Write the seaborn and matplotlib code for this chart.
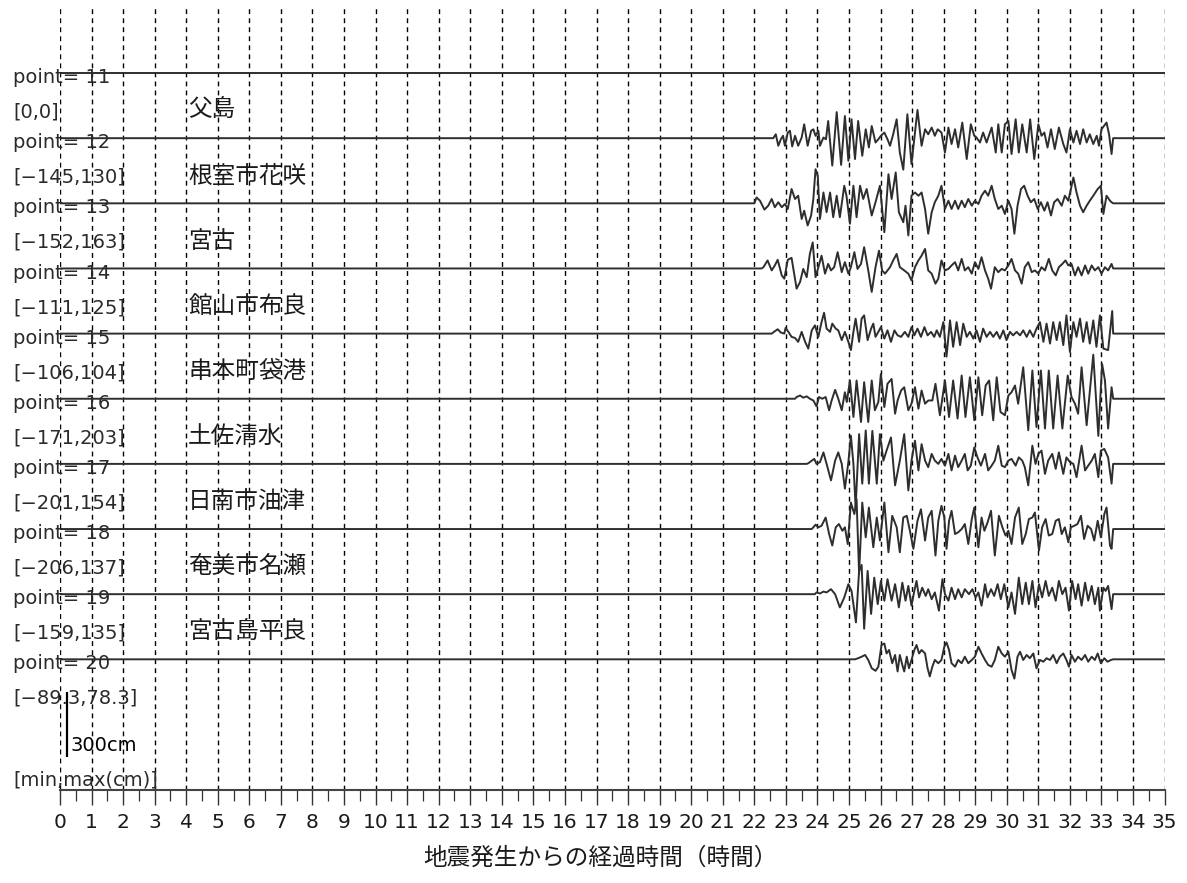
import numpy as np
import pandas as pd
import matplotlib
matplotlib.use("Agg")
import matplotlib.pyplot as plt
import seaborn as sns

# ---------------- data ----------------
points = [11, 12, 13, 14, 15, 16, 17, 18, 19, 20]
ranges = ["[0,0]", "[\u2212145,130]", "[\u2212152,163]", "[\u2212111,125]", "[\u2212106,104]",
          "[\u2212171,203]", "[\u2212201,154]", "[\u2212206,137]", "[\u2212159,135]", "[\u221289.3,78.3]"]
stations = ["父島", "根室市花咲", "宮古", "館山市布良", "串本町袋港", "土佐清水",
            "日南市油津", "奄美市名瀬", "宮古島平良", ""]
hour_ticks = list(range(0, 36))
x_label = "地震発生からの経過時間（時間）"
scale_cm = 300
scale_text = "300cm"
minmax_text = "[min,max(cm)]"

t11 = []
a11 = []

t12 = [22.60, 22.68, 22.76, 22.84, 22.91, 22.97, 23.06, 23.13, 23.20, 23.29,
       23.39, 23.50, 23.58, 23.69, 23.80, 23.87, 23.94, 24.03, 24.08, 24.19,
       24.27, 24.34, 24.47, 24.61, 24.75, 24.87, 24.98, 25.08, 25.19, 25.29,
       25.42, 25.53, 25.63, 25.72, 25.84, 25.93, 26.01, 26.12, 26.22, 26.30,
       26.40, 26.51, 26.61, 26.72, 26.85, 26.98, 27.17, 27.30, 27.41, 27.51,
       27.62, 27.72, 27.81, 27.93, 28.04, 28.15, 28.25, 28.36, 28.46, 28.59,
       28.73, 28.86, 28.97, 29.04, 29.15, 29.25, 29.36, 29.52, 29.65, 29.73,
       29.84, 29.94, 30.05, 30.15, 30.28, 30.38, 30.49, 30.63, 30.74, 30.87,
       31.00, 31.10, 31.19, 31.29, 31.40, 31.52, 31.65, 31.79, 31.89, 32.00,
       32.11, 32.21, 32.32, 32.42, 32.53, 32.63, 32.74, 32.85, 32.92, 33.00,
       33.16, 33.24, 33.32, 33.37]
a12 = [0, 18, -35, -5, 11, -35, 26, 34, -38, 11,
       -35, 3, 64, -35, 34, 41, 11, 34, -35, 3,
       -5, 79, -126, 120, -123, 102, -104, 87, -96, 79,
       -81, 41, -43, 56, -20, -5, 11, 26, -5, -35,
       18, 87, -66, -145, 110, -119, 130, -35, 41, 18,
       49, 11, 41, 26, -66, 49, -27, 41, -43, 72,
       -96, 64, 11, 3, -20, 26, -20, 49, -66, 64,
       -66, 64, 79, -73, 87, -66, 64, -66, 87, -96,
       64, 11, 26, -43, 41, -50, 49, -27, -66, 41,
       -20, 34, -27, 41, -20, 18, -27, 11, -35, 41,
       72, 18, -73, 0]

t13 = [22.00,
       22.07, 22.18, 22.32, 22.44, 22.55, 22.65, 22.76, 22.87, 22.97, 23.06,
       23.18, 23.29, 23.39, 23.50, 23.58, 23.69, 23.80, 23.87, 23.94, 24.01,
       24.08, 24.19, 24.29, 24.40, 24.50, 24.61, 24.71, 24.85, 24.92, 25.03,
       25.14, 25.24, 25.35, 25.45, 25.56, 25.72, 25.84, 25.98, 26.12, 26.25,
       26.35, 26.48, 26.58, 26.72, 26.79, 26.88, 26.98, 27.09, 27.20, 27.30,
       27.41, 27.51, 27.62, 27.72, 27.83, 27.93, 28.04, 28.15, 28.25, 28.36,
       28.46, 28.57, 28.67, 28.78, 28.89, 28.99, 29.10, 29.20, 29.31, 29.41,
       29.52, 29.62, 29.73, 29.84, 29.94, 30.05, 30.15, 30.24, 30.34, 30.45,
       30.55, 30.66, 30.76, 30.87, 30.98, 31.08, 31.19, 31.29, 31.40, 31.50,
       31.61, 31.74, 31.84, 31.95, 32.11, 32.21, 32.32, 32.42, 32.53, 32.63,
       32.74, 32.88, 32.98, 33.06, 33.16, 33.27, 33.32, 33.37]
a13 = [0,
       27, 12, -29, -11, 20, -18, 5, -18, -3, -26,
       66, 20, 35, -72, -34, -102, -56, 20, 157, 126,
       -72, 50, -41, 50, -64, 35, -64, 81, 35, -94,
       81, -64, 81, 20, 66, -56, 5, 81, -133, 134,
       20, 142, -41, -87, -11, -148, 35, 50, 35, 50,
       -26, -140, -41, 5, 35, 81, -26, 12, -26, 12,
       -26, 12, -18, 20, -11, 12, -3, 35, 58, 35,
       81, 20, -26, -11, -49, 12, -26, -140, -11, 66,
       81, 35, 5, 20, -26, 5, -34, 5, -56, 5,
       20, -11, 35, 12, 119, 50, -11, -41, -11, 12,
       35, 66, 81, -49, 35, 12, 5, 0]

t14 = [22.23,
       22.29, 22.42, 22.55, 22.65, 22.74, 22.87, 22.95, 23.06, 23.18, 23.34,
       23.45, 23.55, 23.66, 23.76, 23.85, 23.94, 24.03, 24.13, 24.24, 24.34,
       24.43, 24.53, 24.64, 24.77, 24.87, 24.98, 25.06, 25.17, 25.27, 25.38,
       25.48, 25.61, 25.72, 25.84, 25.95, 26.05, 26.14, 26.30, 26.40, 26.51,
       26.61, 26.75, 26.88, 26.98, 27.09, 27.20, 27.30, 27.41, 27.51, 27.62,
       27.74, 27.83, 27.93, 28.04, 28.15, 28.25, 28.36, 28.46, 28.57, 28.67,
       28.78, 28.89, 28.99, 29.10, 29.20, 29.31, 29.41, 29.50, 29.62, 29.73,
       29.84, 29.94, 30.05, 30.15, 30.26, 30.36, 30.47, 30.57, 30.68, 30.79,
       30.89, 31.00, 31.10, 31.21, 31.33, 31.44, 31.55, 31.65, 31.76, 31.86,
       31.95, 32.05, 32.16, 32.26, 32.37, 32.48, 32.58, 32.69, 32.79, 32.90,
       33.00, 33.11, 33.21, 33.32, 33.37]
a14 = [0,
       6, 37, -9, 14, 40, -32, -47, 40, 49, -93,
       -62, -2, -40, 67, 120, -40, 6, 59, -24, 21,
       -9, 6, 75, -17, 29, -24, 6, 75, -2, 21,
       98, -9, -108, 6, 82, -9, -24, 6, 37, 67,
       6, -9, -24, -55, 6, 37, 59, 90, -9, -24,
       -70, -47, 37, -9, -2, 14, 29, -9, 44, -9,
       6, -24, 29, -2, 52, -9, -47, -93, 6, -17,
       -2, -9, 14, 44, -9, -24, -70, 6, 29, -17,
       -9, -24, 6, -9, 44, -9, -32, 6, 21, 37,
       14, 21, -32, 6, -32, 14, -24, 14, -9, 6,
       -24, 6, -9, 21, 0]

t15 = [22.50,
       22.55, 22.65, 22.74, 22.84, 22.95, 22.99, 23.08, 23.18, 23.29, 23.39,
       23.50, 23.61, 23.71, 23.82, 23.92, 24.03, 24.13, 24.21, 24.29, 24.40,
       24.47, 24.58, 24.66, 24.77, 24.87, 24.98, 25.06, 25.14, 25.21, 25.32,
       25.40, 25.48, 25.59, 25.70, 25.77, 25.84, 25.93, 26.01, 26.12, 26.22,
       26.33, 26.44, 26.54, 26.65, 26.77, 26.88, 26.98, 27.07, 27.17, 27.28,
       27.39, 27.49, 27.60, 27.70, 27.78, 27.88, 27.99, 28.09, 28.20, 28.30,
       28.41, 28.52, 28.62, 28.73, 28.83, 28.94, 29.04, 29.15, 29.25, 29.36,
       29.47, 29.57, 29.68, 29.78, 29.89, 29.99, 30.10, 30.20, 30.31, 30.42,
       30.52, 30.63, 30.73, 30.84, 30.94, 31.05, 31.16, 31.26, 31.37, 31.47,
       31.58, 31.68, 31.79, 31.89, 32.00, 32.11, 32.21, 32.32, 32.42, 32.53,
       32.63, 32.74, 32.84, 32.95, 33.06, 33.21, 33.34, 33.37]
a15 = [0,
       0, 11, 20, 5, 0, 26, 8, -15, -20, -38,
       8, -38, -69, 15, 38, -15, 53, 96, 23, 8,
       46, 23, 15, -30, 8, -38, -76, 8, 69, -38,
       69, 84, -30, 23, 46, -15, 8, 30, -23, 15,
       -38, 15, -8, -15, 8, -15, 30, -8, 23, -15,
       30, -8, 8, -15, 15, -15, 53, -106, 61, -61,
       53, -53, 46, -15, 8, -23, 15, -38, 23, -15,
       8, -15, 8, -23, 15, -30, 8, -8, 8, -8,
       15, -15, 15, -15, 23, 53, -38, 46, -46, 53,
       -30, 53, -53, 84, -84, 53, -15, 69, -38, 53,
       -46, 61, -61, 84, -69, -76, 104, 0]

t16 = [23.29,
       23.34, 23.45, 23.55, 23.66, 23.76, 23.87, 23.97, 24.05, 24.15, 24.26,
       24.37, 24.45, 24.56, 24.66, 24.77, 24.87, 24.93, 25.03, 25.14, 25.24,
       25.38, 25.48, 25.61, 25.72, 25.82, 25.93, 26.01, 26.12, 26.22, 26.35,
       26.46, 26.54, 26.65, 26.75, 26.88, 26.98, 27.09, 27.20, 27.30, 27.41,
       27.51, 27.64, 27.74, 27.88, 28.04, 28.17, 28.30, 28.44, 28.57, 28.69,
       28.83, 28.97, 29.10, 29.22, 29.33, 29.44, 29.57, 29.68, 29.80, 29.94,
       30.05, 30.15, 30.26, 30.36, 30.52, 30.68, 30.81, 30.94, 31.08, 31.21,
       31.33, 31.47, 31.61, 31.76, 31.93, 32.05, 32.16, 32.26, 32.37, 32.53,
       32.74, 32.90, 33.02, 33.11, 33.21, 33.32, 33.37]
a16 = [0,
       8, 15, 5, 11, 0, -8, -35, 8, 0, 8,
       -53, -8, 41, 0, -53, 30, -15, 84, -84, 84,
       -107, 76, -107, 84, -53, -15, 114, -38, 69, 91,
       -69, -8, 38, 53, -53, -23, 53, -46, 38, -23,
       -8, -8, 69, -76, 84, -84, 84, -91, 107, -84,
       99, -99, 99, -76, 61, 84, -99, 99, -61, -76,
       15, 30, 61, -23, 145, -145, 130, -130, 130, -137,
       130, -137, 107, -137, 107, 8, -23, -69, 145, -122,
       203, -171, 160, 84, -137, 53, 0]

t17 = [23.66,
       23.71, 23.82, 23.90, 23.97, 24.08, 24.19, 24.29, 24.43, 24.56, 24.66,
       24.77, 24.87, 24.98, 25.06, 25.14, 25.21, 25.32, 25.42, 25.53, 25.63,
       25.74, 25.88, 25.98, 26.09, 26.19, 26.33, 26.46, 26.61, 26.75, 26.88,
       26.98, 27.09, 27.20, 27.30, 27.41, 27.51, 27.62, 27.72, 27.83, 27.93,
       28.04, 28.15, 28.25, 28.36, 28.46, 28.57, 28.67, 28.76, 28.86, 28.97,
       29.07, 29.18, 29.31, 29.41, 29.52, 29.62, 29.73, 29.84, 29.94, 30.05,
       30.15, 30.28, 30.38, 30.49, 30.57, 30.68, 30.81, 30.91, 31.00, 31.10,
       31.21, 31.31, 31.44, 31.55, 31.65, 31.79, 31.89, 32.00, 32.11, 32.21,
       32.37, 32.48, 32.58, 32.69, 32.79, 32.90, 32.98, 33.09, 33.21, 33.32,
       33.37]
a17 = [0,
       3, 15, 23, 0, 8, 53, 0, -76, 15, 53,
       0, -114, 8, 130, 0, -201, 137, -91, 154, -91,
       152, -91, 137, 15, 61, 122, -99, 15, 137, -122,
       15, 107, -30, 91, 15, -15, 46, 15, 0, 23,
       -8, 46, -30, 38, -15, 15, 46, -30, -8, 76,
       30, -8, 46, -30, -8, 15, 84, -8, -15, 15,
       23, -8, 30, 15, -15, -99, 84, 0, 46, 61,
       -46, 15, 46, -23, 53, -46, 30, 8, 0, -61,
       84, -30, -8, 15, 46, -61, 61, 69, 30, -91,
       0]

t18 = [23.82,
       23.87, 23.94, 24.03, 24.13, 24.26, 24.37, 24.47, 24.58, 24.68, 24.79,
       24.87, 24.96, 25.06, 25.17, 25.24, 25.32, 25.42, 25.53, 25.63, 25.77,
       25.88, 25.98, 26.12, 26.25, 26.37, 26.51, 26.61, 26.72, 26.83, 26.93,
       27.04, 27.17, 27.28, 27.41, 27.51, 27.62, 27.74, 27.83, 27.93, 28.02,
       28.09, 28.17, 28.25, 28.36, 28.46, 28.57, 28.67, 28.78, 28.89, 28.97,
       29.10, 29.20, 29.29, 29.39, 29.50, 29.62, 29.75, 29.86, 29.96, 30.05,
       30.15, 30.26, 30.38, 30.49, 30.60, 30.70, 30.81, 30.89, 31.02, 31.12,
       31.23, 31.33, 31.44, 31.55, 31.65, 31.74, 31.84, 31.95, 32.03, 32.14,
       32.24, 32.35, 32.45, 32.56, 32.67, 32.77, 32.88, 32.98, 33.09, 33.16,
       33.27, 33.32, 33.37]
a18 = [0,
       8, 20, 8, 15, 53, -23, -76, 8, 23, -8,
       8, -69, 122, 69, 137, -206, 122, -38, 99, -84,
       53, -53, 122, -107, 61, 8, -107, 53, 61, -8,
       -91, 38, 91, -53, 53, 84, -122, 38, 107, 53,
       -91, 38, 84, -23, -15, 0, 23, -69, 46, 99,
       -84, 53, -8, 30, 84, -122, 61, 8, -30, -8,
       -69, 53, 99, -69, -23, 46, 53, 76, -99, 8,
       46, -30, -23, 38, 46, -23, 8, -61, 8, 15,
       23, 61, -46, 15, 0, -53, 38, -38, 69, 99,
       -76, -91, 0]

t19 = [23.92,
       23.97, 24.08, 24.19, 24.29, 24.43, 24.56, 24.71, 24.85, 24.98, 25.08,
       25.22, 25.32, 25.40, 25.48, 25.59, 25.70, 25.80, 25.91, 26.01, 26.12,
       26.22, 26.35, 26.46, 26.58, 26.69, 26.79, 26.88, 26.98, 27.07, 27.14,
       27.22, 27.32, 27.43, 27.51, 27.62, 27.72, 27.85, 27.96, 28.04, 28.15,
       28.25, 28.36, 28.46, 28.57, 28.67, 28.80, 28.91, 29.01, 29.10, 29.20,
       29.31, 29.39, 29.50, 29.60, 29.71, 29.81, 29.92, 30.05, 30.15, 30.26,
       30.38, 30.49, 30.60, 30.70, 30.81, 30.91, 31.02, 31.12, 31.23, 31.33,
       31.44, 31.55, 31.65, 31.76, 31.86, 31.97, 32.07, 32.18, 32.26, 32.37,
       32.48, 32.58, 32.69, 32.79, 32.90, 32.95, 33.06, 33.13, 33.21, 33.32,
       33.37]
a19 = [0,
       8, 3, 12, 8, 23, 0, -61, -15, 46, 15,
       -130, 107, 135, -159, 107, -91, 76, -46, 61, -30,
       69, -30, 46, -61, 53, -30, 38, -53, 15, 61,
       -15, 30, -8, 23, -23, 8, -76, 69, 0, -30,
       30, -23, 23, -15, 23, 0, 23, -15, 8, -53,
       46, -15, 23, -8, 46, -23, 46, -61, 8, -91,
       76, -46, 53, -46, 61, -61, 46, -15, 61, -8,
       30, -30, 61, 0, 30, -76, 61, -23, 46, -53,
       53, -30, 38, -46, 30, -76, 30, 15, 38, -69,
       0]

t20 = [25.19,
       25.29, 25.40, 25.51, 25.61, 25.72, 25.84, 25.93, 26.03, 26.12, 26.19,
       26.27, 26.37, 26.46, 26.54, 26.61, 26.69, 26.75, 26.83, 26.90, 26.98,
       27.07, 27.14, 27.22, 27.30, 27.41, 27.49, 27.56, 27.64, 27.72, 27.83,
       27.93, 28.02, 28.09, 28.17, 28.25, 28.36, 28.46, 28.57, 28.67, 28.78,
       28.89, 28.99, 29.10, 29.20, 29.31, 29.41, 29.52, 29.62, 29.73, 29.84,
       29.94, 30.05, 30.15, 30.24, 30.34, 30.42, 30.52, 30.63, 30.73, 30.84,
       30.94, 31.05, 31.16, 31.26, 31.37, 31.47, 31.58, 31.68, 31.79, 31.89,
       31.97, 32.05, 32.16, 32.26, 32.37, 32.48, 32.58, 32.69, 32.79, 32.88,
       32.98, 33.09, 33.19, 33.30, 33.37]
a20 = [0,
       5, 12, 20, -3, -41, -53, -34, 66, 73, 27,
       43, -18, 20, -56, 20, -26, -56, 12, -41, -3,
       43, 66, 27, 43, 27, -41, -79, -34, -3, -18,
       -3, 58, 78, 43, -18, -34, -3, -18, 12, -18,
       -3, 12, 58, 27, -3, -26, -34, -3, 58, 27,
       12, 35, -49, -89, 12, 35, -3, 20, 5, 27,
       -41, -3, -11, 5, -3, 20, -18, 12, 27, -3,
       -34, 20, -11, 12, -3, 20, -11, 12, -3, 27,
       -18, 5, -11, -3, 0]

times = [t11, t12, t13, t14, t15, t16, t17, t18, t19, t20]
amps = [a11, a12, a13, a14, a15, a16, a17, a18, a19, a20]

# ---------------- build long table ----------------
t_start, t_end = hour_ticks[0], hour_ticks[-1]
rows = []
for i, (p, tt, aa) in enumerate(zip(points, times, amps)):
    n = min(len(tt), len(aa))
    ts = [t_start] + list(tt[:n]) + [t_end]
    vs = [0] + list(aa[:n]) + [0]
    for t, v in zip(ts, vs):
        rows.append({"station": p, "t": t, "y": i - v / scale_cm})
df = pd.DataFrame(rows)

# ---------------- figure ----------------
sns.set_theme(style="white")
plt.rcParams["font.family"] = ["DejaVu Sans", "Noto Sans CJK JP"]
plt.rcParams["axes.unicode_minus"] = True

W, H = 1187, 883
fig = plt.figure(figsize=(W / 100, H / 100), dpi=100)
x0_px, x1_px = 60, 1164.6
ytop_px, ybot_px = 7.9, 789.6
ax = fig.add_axes([x0_px / W, 1 - ybot_px / H, (x1_px - x0_px) / W, (ybot_px - ytop_px) / H])

sns.lineplot(data=df, x="t", y="y", units="station", estimator=None, sort=False,
             color="#2e2e2e", linewidth=1.4, ax=ax, legend=False)

ax.set_xlim(t_start, t_end)
ax.set_ylim(len(points) + 1, -1)
ax.set_xlabel("")
ax.set_ylabel("")
ax.set_yticks([])

ax.set_xticks(hour_ticks)
ax.set_xticklabels([str(h) for h in hour_ticks])
ax.set_xticks(np.arange(t_start, t_end, 0.5), minor=True)
ax.tick_params(axis="x", which="major", direction="out", length=10.5, width=1.0,
               color="#333333", labelsize=14.5, labelcolor="#1a1a1a", pad=6, bottom=True)
ax.tick_params(axis="x", which="minor", direction="out", length=8, width=0.9,
               color="#333333", bottom=True)

for s in ["left", "right", "top"]:
    ax.spines[s].set_visible(False)
ax.spines["bottom"].set_color("#444444")
ax.spines["bottom"].set_linewidth(1.5)

ax.grid(False)
for h in hour_ticks:
    ax.axvline(h, color="black", linewidth=1.0, linestyle=(0, (3.5, 3)), zorder=0)

# ---------------- labels ----------------
lab_x = -1.49
name_x = 4.06
for i, (p, r, s) in enumerate(zip(points, ranges, stations)):
    ax.text(lab_x, i + 0.07, f"point= {p}", fontsize=14, color="#2a2a2a",
            ha="left", va="center", clip_on=False)
    ax.text(lab_x, i + 0.6, r, fontsize=14, color="#2a2a2a",
            ha="left", va="center", clip_on=False)
    if s:
        ax.text(name_x, i + 0.58, s, fontsize=17, color="#1a1a1a",
                family=["Noto Sans CJK JP", "DejaVu Sans"],
                ha="left", va="center", clip_on=False)

# scale bar
n = len(points)
bar_x = 0.22
ax.plot([bar_x, bar_x], [n - 0.5, n - 0.5 + 1.0], color="black", linewidth=1.6,
        solid_capstyle="butt")
ax.text(bar_x + 0.1, n + 0.32, scale_text, fontsize=14, color="black",
        ha="left", va="center")
ax.text(lab_x, n + 0.85, minmax_text, fontsize=14, color="#2a2a2a",
        ha="left", va="center", clip_on=False)

fig.text(600 / W, 1 - 858 / H, x_label, fontsize=17, color="#1a1a1a",
         family=["Noto Sans CJK JP", "DejaVu Sans"], ha="center", va="center")

fig.savefig("out.png", dpi=100)
